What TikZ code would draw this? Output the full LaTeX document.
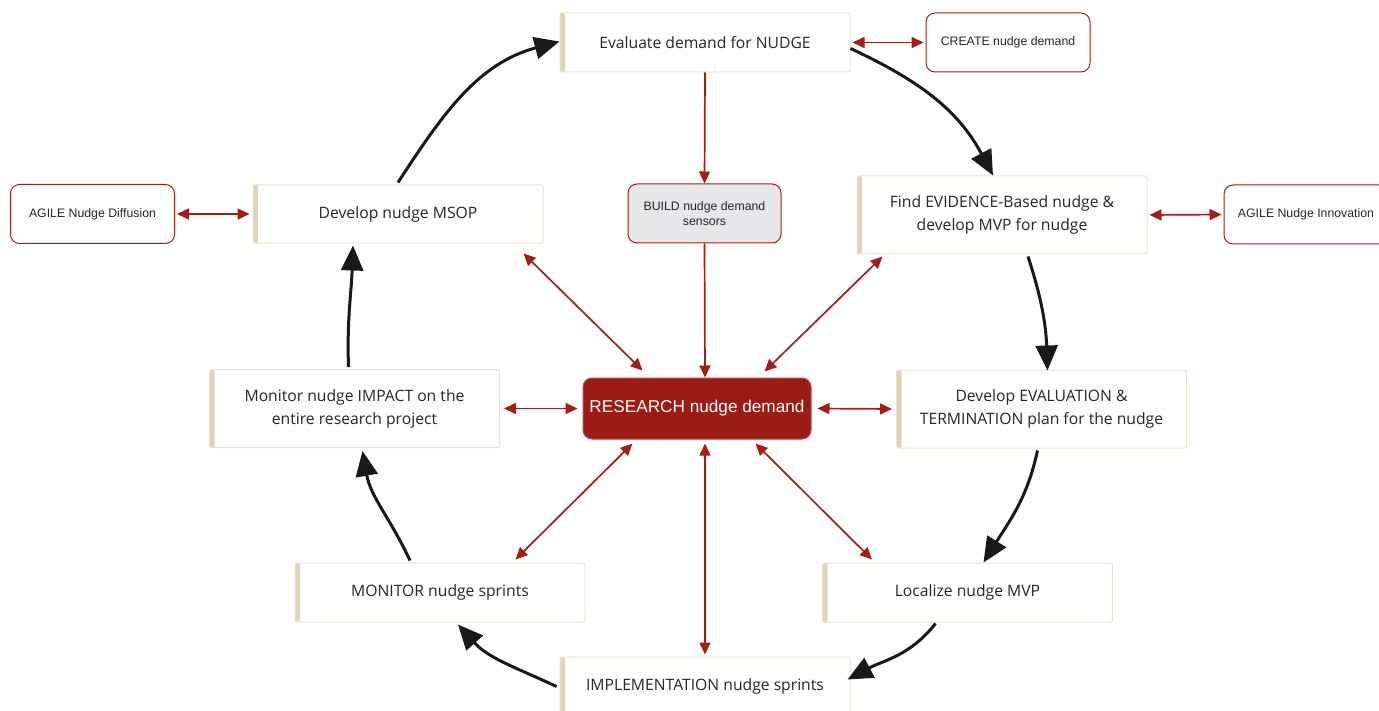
\documentclass[tikz,border=0pt]{standalone}
\usepackage{fontspec}
\setmainfont{Open Sans}
\newfontfamily\arialfont{Liberation Sans}
\usetikzlibrary{arrows.meta,calc}
\definecolor{barbeige}{HTML}{DDD5B5}
\definecolor{edgebeige}{HTML}{E8E3CF}
\definecolor{nudgered}{HTML}{A51E16}
\definecolor{darkred}{HTML}{9B1C14}
\definecolor{sensorgray}{HTML}{E7E7E9}
\definecolor{textgray}{HTML}{262626}

\begin{document}
\begin{tikzpicture}[x=1pt,y=1pt,
  stepbox/.style={draw=edgebeige, line width=1pt, fill=white, rounded corners=2pt,
    minimum width=290pt, minimum height=59pt, inner sep=0pt, align=center,
    text=textgray, font=\fontsize{15.7}{23}\selectfont,
    path picture={\fill[barbeige] (path picture bounding box.north west)
      rectangle ([xshift=5pt]path picture bounding box.south west);}},
  tallbox/.style={stepbox, minimum height=78pt},
  sidebox/.style={draw=nudgered, line width=1pt, fill=white, rounded corners=9pt,
    minimum width=164pt, minimum height=59pt, inner sep=0pt, align=center,
    text=textgray, font=\arialfont\fontsize{12.3}{15}\selectfont},
  hub/.style={draw=nudgered!80!white, line width=1pt, fill=darkred, rounded corners=9pt,
    minimum width=228pt, minimum height=61pt, inner sep=0pt, text=white,
    font=\arialfont\fontsize{17.2}{20}\selectfont},
  cyc/.style={line width=3pt, black!90, -{Triangle[length=25pt,width=22pt]}},
  link/.style={draw=nudgered, line width=1.7pt,
    {Triangle[length=12pt,width=11pt]}-{Triangle[length=12pt,width=11pt]}},
  feed/.style={draw=nudgered, line width=1.7pt, -{Triangle[length=12pt,width=11pt]}}
]
\useasboundingbox (0,0) rectangle (1379,-711);

% cycle of steps
\node[stepbox] (eval) at (705,-42.5) {Evaluate demand for NUDGE};
\node[tallbox] (find) at (1002,-215) {Find EVIDENCE-Based nudge \&\\develop MVP for nudge};
\node[tallbox] (plan) at (1041.5,-409) {Develop EVALUATION \&\\TERMINATION plan for the nudge};
\node[stepbox] (local) at (967.5,-592.5) {Localize nudge MVP};
\node[stepbox] (impl) at (705,-686.5) {IMPLEMENTATION nudge sprints};
\node[stepbox] (monsp) at (440,-592.5) {MONITOR nudge sprints};
\node[tallbox] (impact) at (354.5,-408.5) {Monitor nudge IMPACT on the\\entire research project};
\node[stepbox, minimum height=58pt] (msop) at (398,-214) {Develop nudge MSOP};

% side boxes
\node[sidebox] (create) at (1008,-42.5) {CREATE nudge demand};
\node[sidebox] (diff) at (92.5,-214) {AGILE Nudge Diffusion};
\node[sidebox] (innov) at (1306,-214.5) {AGILE Nudge Innovation};
\node[sidebox, fill=sensorgray, minimum width=153pt] (build) at (704.5,-213.5) {BUILD nudge demand\\sensors};

% central hub
\node[hub] (res) at (697,-408.5) {RESEARCH nudge demand};

% cycle arrows
\draw[cyc] ($(eval.east)+(0,-6)$) to[out=-25,in=118] ($(find.north)+(-9,0)$);
\draw[cyc] ($(find.south)+(26,-2)$) to[out=-72,in=92] ($(plan.north)+(6,-1)$);
\draw[cyc] ($(plan.south)+(-4,-2)$) to[out=-102,in=58] ($(local.north)+(16,0)$);
\draw[cyc] ($(local.south)+(-32,-1)$) to[out=-128,in=28] ($(impl.east)+(-3,7)$);
\draw[cyc] ($(impl.west)+(-3,0)$) to[out=155,in=-48] ($(monsp.south)+(18,-2)$);
\draw[cyc] ($(monsp.north)+(-30,2)$) to[out=115,in=-80] ($(impact.south)+(8,-3)$);
\draw[cyc] ($(impact.north)+(-6,2)$) to[out=92,in=-92] ($(msop.south)+(-45,-2)$);
\draw[cyc] ($(msop.north)+(0,2)$) to[out=57,in=195] ($(eval.west)+(0,1)$);

% links to the side boxes
\draw[link] ($(eval.east)+(2,0)$) -- ($(create.west)+(-2,0)$);
\draw[link] ($(diff.east)+(2,0)$) -- ($(msop.west)+(-3,0)$);
\draw[link] ($(find.east)+(2,0)$) -- ($(innov.west)+(-2,0)$);

% sensing chain
\draw[feed] (eval.south) -- (build.north);
\draw[feed] (build.south) -- ($(res.north)+(8,0)$);

% links to the hub
\draw[link] ($(msop.south east)+(-20,-10)$) -- ($(res.north west)+(60,7)$);
\draw[link] ($(find.south west)+(26,-2)$) -- ($(res.north east)+(-47,6)$);
\draw[link] ($(impact.east)+(4,0)$) -- ($(res.west)+(-5,0)$);
\draw[link] ($(res.east)+(6,0)$) -- ($(plan.west)+(-4,0)$);
\draw[link] ($(res.south west)+(50,-4)$) -- ($(monsp.north east)+(-70,3)$);
\draw[link] ($(res.south east)+(-56,-4)$) -- ($(local.north west)+(50,3)$);
\draw[link] ($(res.south)+(8,-4)$) -- ($(impl.north)+(0,2)$);
\end{tikzpicture}
\end{document}
